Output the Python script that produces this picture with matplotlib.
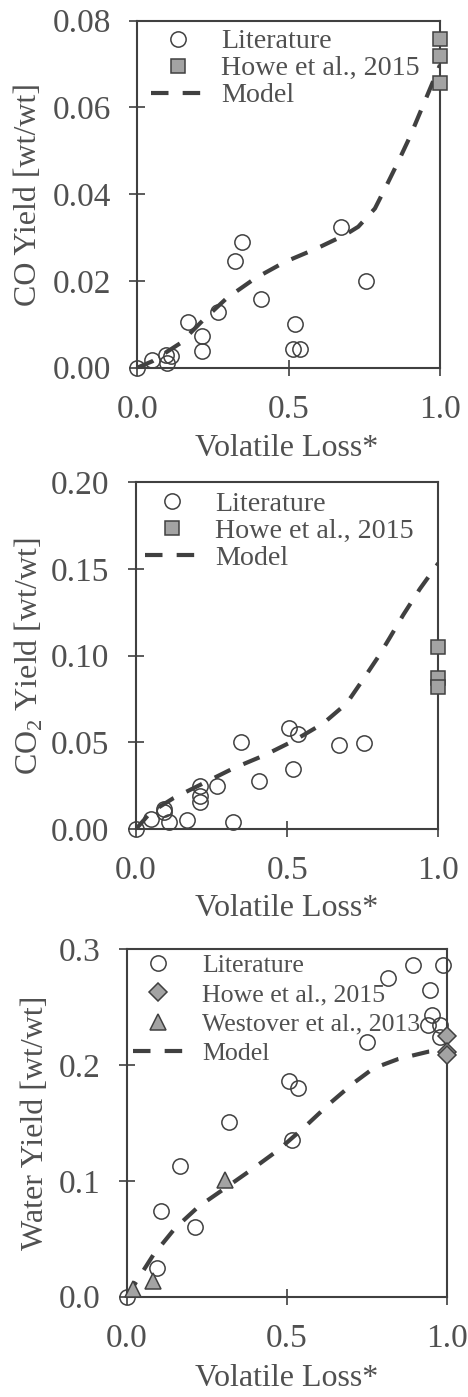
import matplotlib
matplotlib.use("Agg")
import matplotlib.pyplot as plt

plt.rcParams["font.family"] = ["Liberation Serif", "DejaVu Serif"]
plt.rcParams["mathtext.fontset"] = "custom"
plt.rcParams["mathtext.rm"] = "Liberation Serif"

# ---------------- CO yield ----------------
co_lit_x = [0.0, 0.047, 0.094, 0.097, 0.111, 0.169, 0.213, 0.215, 0.268, 0.323,
            0.347, 0.410, 0.520, 0.513, 0.538, 0.673, 0.754]
co_lit_y = [0.0, 0.0018, 0.0029, 0.0010, 0.0027, 0.0106, 0.0073, 0.0039, 0.0129,
            0.0247, 0.0289, 0.0159, 0.0101, 0.0043, 0.0043, 0.0325, 0.0200]
co_howe_x = [1.0, 1.0, 1.0]
co_howe_y = [0.0758, 0.0719, 0.0656]
co_model_x = [0.0, 0.05, 0.141, 0.218, 0.295, 0.389, 0.488, 0.593, 0.686, 0.730,
              0.785, 0.824, 0.862, 0.901, 0.940, 1.0]
co_model_y = [0.0, 0.0015, 0.0056, 0.0110, 0.0160, 0.0206, 0.0244, 0.0275, 0.0306,
              0.0325, 0.0367, 0.0421, 0.0475, 0.0533, 0.0598, 0.0698]

# ---------------- CO2 yield ----------------
co2_lit_x = [0.0, 0.049, 0.094, 0.092, 0.109, 0.168, 0.212, 0.212, 0.212, 0.267,
             0.322, 0.346, 0.408, 0.507, 0.518, 0.537, 0.673, 0.754]
co2_lit_y = [0.0, 0.0058, 0.0113, 0.0100, 0.0042, 0.0052, 0.0250, 0.0190, 0.0158,
             0.0250, 0.0042, 0.0504, 0.0279, 0.0581, 0.0348, 0.0548, 0.0485, 0.0498]
co2_howe_x = [1.0, 1.0, 1.0]
co2_howe_y = [0.1052, 0.0873, 0.0821]
co2_model_x = [0.0, 0.041, 0.079, 0.123, 0.223, 0.322, 0.427, 0.526, 0.620, 0.697,
               0.758, 0.802, 0.840, 0.884, 0.939, 1.0]
co2_model_y = [0.0, 0.0081, 0.0129, 0.0177, 0.0264, 0.0350, 0.0427, 0.0513, 0.0610,
               0.0725, 0.0880, 0.0995, 0.1105, 0.1235, 0.1385, 0.1533]

# ---------------- Water yield ----------------
h2o_lit_x = [0.0, 0.096, 0.107, 0.167, 0.213, 0.321, 0.507, 0.535, 0.518, 0.750,
             0.818, 0.896, 0.989, 0.948, 0.953, 0.943, 0.979, 0.979]
h2o_lit_y = [0.0, 0.0250, 0.0740, 0.1131, 0.0599, 0.1511, 0.1863, 0.1800, 0.1353,
             0.2202, 0.2755, 0.2864, 0.2864, 0.2648, 0.2433, 0.2346, 0.2346, 0.2245]
h2o_howe_x = [1.0, 1.0, 1.0]
h2o_howe_y = [0.2251, 0.2116, 0.2087]
h2o_west_x = [0.019, 0.081, 0.307]
h2o_west_y = [0.0069, 0.0136, 0.1008]
h2o_model_x = [0.0, 0.083, 0.151, 0.224, 0.307, 0.396, 0.474, 0.557, 0.635, 0.708,
               0.771, 0.849, 0.943, 1.0]
h2o_model_y = [0.0, 0.0360, 0.0591, 0.0777, 0.0936, 0.1109, 0.1267, 0.1468, 0.1670,
               0.1843, 0.1972, 0.2053, 0.2116, 0.2130]

x_ticks = [0.0, 0.5, 1.0]
x_ticklabels = ["0.0", "0.5", "1.0"]

TXT = "#505050"
DARK = "#404040"
FILL = "#a3a3a3"

W, H = 468, 1397
fig = plt.figure(figsize=(W / 100, H / 100), dpi=100)


def px_axes(left, top, right, bottom):
    return fig.add_axes([left / W, 1 - bottom / H, (right - left) / W, (bottom - top) / H])


def style(ax, ylim, yticks, yfmt):
    ax.set_xlim(0, 1)
    ax.set_ylim(*ylim)
    ax.set_xticks(x_ticks)
    ax.set_xticklabels(x_ticklabels)
    ax.set_yticks(yticks)
    ax.set_yticklabels([yfmt.format(v) for v in yticks])
    for s in ax.spines.values():
        s.set_color(DARK)
        s.set_linewidth(1.5)
    ax.tick_params(direction="inout", length=12, width=1.2, color=DARK,
                   labelcolor=TXT, labelsize=24, pad=13)


def model(ax, x, y):
    ax.plot(x, y, color=DARK, lw=3, ls=(0, (4.2, 3.4)), label="Model", zorder=2)


def lit(ax, x, y):
    ax.plot(x, y, ls="none", marker="o", ms=11, mfc="none", mec=DARK, mew=1.1,
            label="Literature", zorder=3, clip_on=False)


def legend(ax, dx, dy, size, spacing, hlen=1.9, hpad=0.6):
    leg = ax.legend(loc="upper left", bbox_to_anchor=(dx, dy), frameon=False,
                    fontsize=size, handlelength=hlen, handletextpad=hpad,
                    labelspacing=spacing, borderpad=0, borderaxespad=0)
    for t in leg.get_texts():
        t.set_color(TXT)
    return leg


# CO panel
ax1 = px_axes(137.3, 20.7, 440, 367.7)
lit(ax1, co_lit_x, co_lit_y)
ax1.plot(co_howe_x, co_howe_y, ls="none", marker="s", ms=9.5, mfc=FILL, mec=DARK,
         mew=1.1, label="Howe et al., 2015", zorder=4, clip_on=False)
model(ax1, co_model_x, co_model_y)
style(ax1, (0, 0.08), [0.0, 0.02, 0.04, 0.06, 0.08], "{:.2f}")
legend(ax1, 0.045, 0.977, 20.2, 0.05)
fig.text(29 / W, 1 - 194 / H, "CO Yield [wt/wt]", rotation=90, ha="center",
         va="center", fontsize=23, color=TXT)
fig.text(287 / W, 1 - 448 / H, "Volatile Loss*", ha="center", va="center",
         fontsize=23, color=TXT)

# CO2 panel
ax2 = px_axes(136, 482.3, 438.3, 829)
lit(ax2, co2_lit_x, co2_lit_y)
ax2.plot(co2_howe_x, co2_howe_y, ls="none", marker="s", ms=9.5, mfc=FILL, mec=DARK,
         mew=1.1, label="Howe et al., 2015", zorder=4, clip_on=False)
model(ax2, co2_model_x, co2_model_y)
style(ax2, (0, 0.20), [0.0, 0.05, 0.10, 0.15, 0.20], "{:.2f}")
legend(ax2, 0.03, 0.975, 20.2, 0.05)
fig.text(28.5 / W, 1 - 656 / H, "CO$_2$ Yield [wt/wt]", rotation=90, ha="center",
         va="center", fontsize=23, color=TXT)
fig.text(287 / W, 1 - 909 / H, "Volatile Loss*", ha="center", va="center",
         fontsize=23, color=TXT)

# Water panel
ax3 = px_axes(126.7, 949.3, 446.7, 1296.7)
lit(ax3, h2o_lit_x, h2o_lit_y)
ax3.plot(h2o_howe_x, h2o_howe_y, ls="none", marker="D", ms=9, mfc=FILL, mec=DARK,
         mew=1.1, label="Howe et al., 2015", zorder=4, clip_on=False)
ax3.plot(h2o_west_x, h2o_west_y, ls="none", marker="^", ms=12, mfc=FILL, mec=DARK,
         mew=1.1, label="Westover et al., 2013", zorder=4, clip_on=False)
model(ax3, h2o_model_x, h2o_model_y)
style(ax3, (0, 0.3), [0.0, 0.1, 0.2, 0.3], "{:.1f}")
legend(ax3, 0.02, 0.988, 18.6, 0.25, hlen=1.95, hpad=0.72)
fig.text(36 / W, 1 - 1123 / H, "Water Yield [wt/wt]", rotation=90, ha="center",
         va="center", fontsize=23, color=TXT)
fig.text(286.7 / W, 1 - 1379 / H, "Volatile Loss*", ha="center", va="center",
         fontsize=23, color=TXT)

fig.savefig("out.png", dpi=100, facecolor="white")
